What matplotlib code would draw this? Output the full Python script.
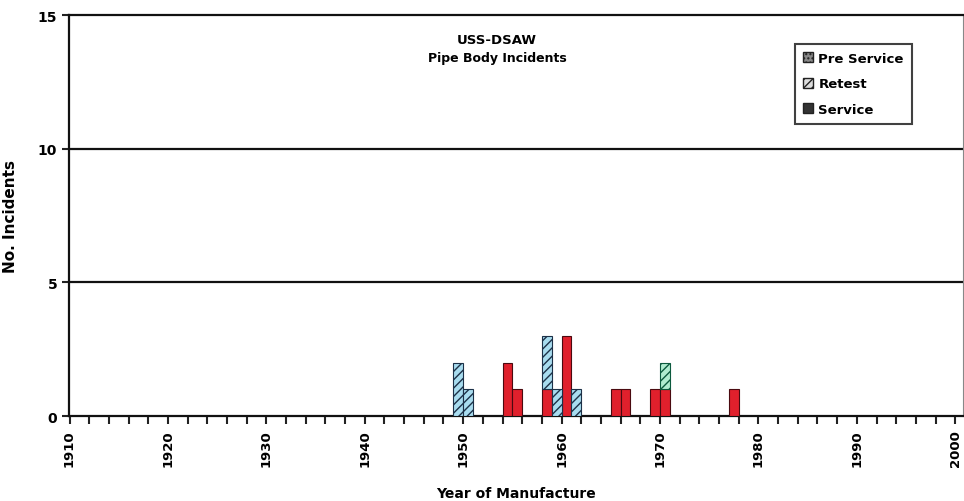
import matplotlib
matplotlib.use("Agg")
import matplotlib.pyplot as plt
from matplotlib.patches import Patch
import numpy as np

# Data
pre_years = [1949, 1950, 1958, 1959, 1961]
pre_counts = [2, 1, 2, 1, 1]
retest_years = [1970]
retest_counts = [1]
service_years = [1954, 1955, 1958, 1960, 1965, 1966, 1969, 1970, 1977]
service_counts = [2, 1, 1, 3, 1, 1, 1, 1, 1]
x_tick_labels = ["1910", "1920", "1930", "1940", "1950", "1960", "1970", "1980", "1990", "2000"]
y_ticks = [0, 5, 10, 15]

plt.rcParams['font.family'] = ['DejaVu Sans']
fig = plt.figure(figsize=(9.64, 5.02), dpi=100)
ax = fig.add_axes([0.0716, 0.169, 0.927, 0.799])

years = np.arange(1910, 2001)
svc = dict(zip(service_years, service_counts))
svc_arr = np.array([svc.get(y, 0) for y in years])
pre = dict(zip(pre_years, pre_counts))
pre_arr = np.array([pre.get(y, 0) for y in years])
ret = dict(zip(retest_years, retest_counts))
ret_arr = np.array([ret.get(y, 0) for y in years])

m = svc_arr > 0
ax.bar(years[m], svc_arr[m], width=1.0, align='edge', color='#e0202c',
       edgecolor='#4a0a10', linewidth=0.8, zorder=3)
m = pre_arr > 0
ax.bar(years[m], pre_arr[m], width=1.0, align='edge', bottom=svc_arr[m],
       color='#a8dcef', edgecolor='#1c3148', hatch='////', linewidth=0.8, zorder=3)
m = ret_arr > 0
ax.bar(years[m], ret_arr[m], width=1.0, align='edge', bottom=(svc_arr + pre_arr)[m],
       color='#b0ecd0', edgecolor='#0c5a3e', hatch='////', linewidth=0.8, zorder=3)

ax.set_xlim(1909.95, 2000.75)
ax.set_ylim(0, 15)
ax.set_yticks(y_ticks)
ax.set_yticklabels([str(v) for v in y_ticks], fontsize=10, fontweight='bold')
ax.set_xticks(np.arange(1910, 2001, 2), minor=True)
ax.set_xticks(np.arange(1910, 2001, 10))
ax.set_xticklabels(x_tick_labels, rotation=90, fontsize=9.5, fontweight='bold')
ax.tick_params(axis='x', which='both', direction='out', length=6, width=1.5, color='#222222')
ax.tick_params(axis='y', direction='out', length=5, width=1.5, color='#222222')

for y in [5, 10]:
    ax.axhline(y, color='#111111', linewidth=1.6, zorder=1)

for s in ['left', 'bottom', 'top']:
    ax.spines[s].set_linewidth(1.6)
    ax.spines[s].set_color('#111111')
ax.spines['right'].set_linewidth(0.8)
ax.spines['right'].set_color('#888888')

ax.set_xlabel("Year of Manufacture", fontsize=10, fontweight='bold', labelpad=14)
ax.set_ylabel("No. Incidents", fontsize=11, fontweight='bold', labelpad=14)

ax.text(0.479, 0.940, "USS-DSAW", transform=ax.transAxes, ha='center', va='center',
        fontsize=9.5, fontweight='bold')
ax.text(0.479, 0.895, "Pipe Body Incidents", transform=ax.transAxes, ha='center', va='center',
        fontsize=9, fontweight='bold')

handles = [Patch(facecolor='#888888', edgecolor='#222222', hatch='....'),
           Patch(facecolor='#dddddd', edgecolor='#222222', hatch='////'),
           Patch(facecolor='#333333', edgecolor='#222222')]
leg = ax.legend(handles, ["Pre Service", "Retest", "Service"], loc='upper left',
                bbox_to_anchor=(0.812, 0.928), frameon=True, fancybox=False,
                edgecolor='#111111', handlelength=0.8, handleheight=0.8, handletextpad=0.4,
                borderpad=0.6, labelspacing=0.95, borderaxespad=0,
                prop={'weight': 'bold', 'size': 9.5})
leg.get_frame().set_linewidth(1.5)

fig.savefig("out.png", dpi=100, facecolor='white')
